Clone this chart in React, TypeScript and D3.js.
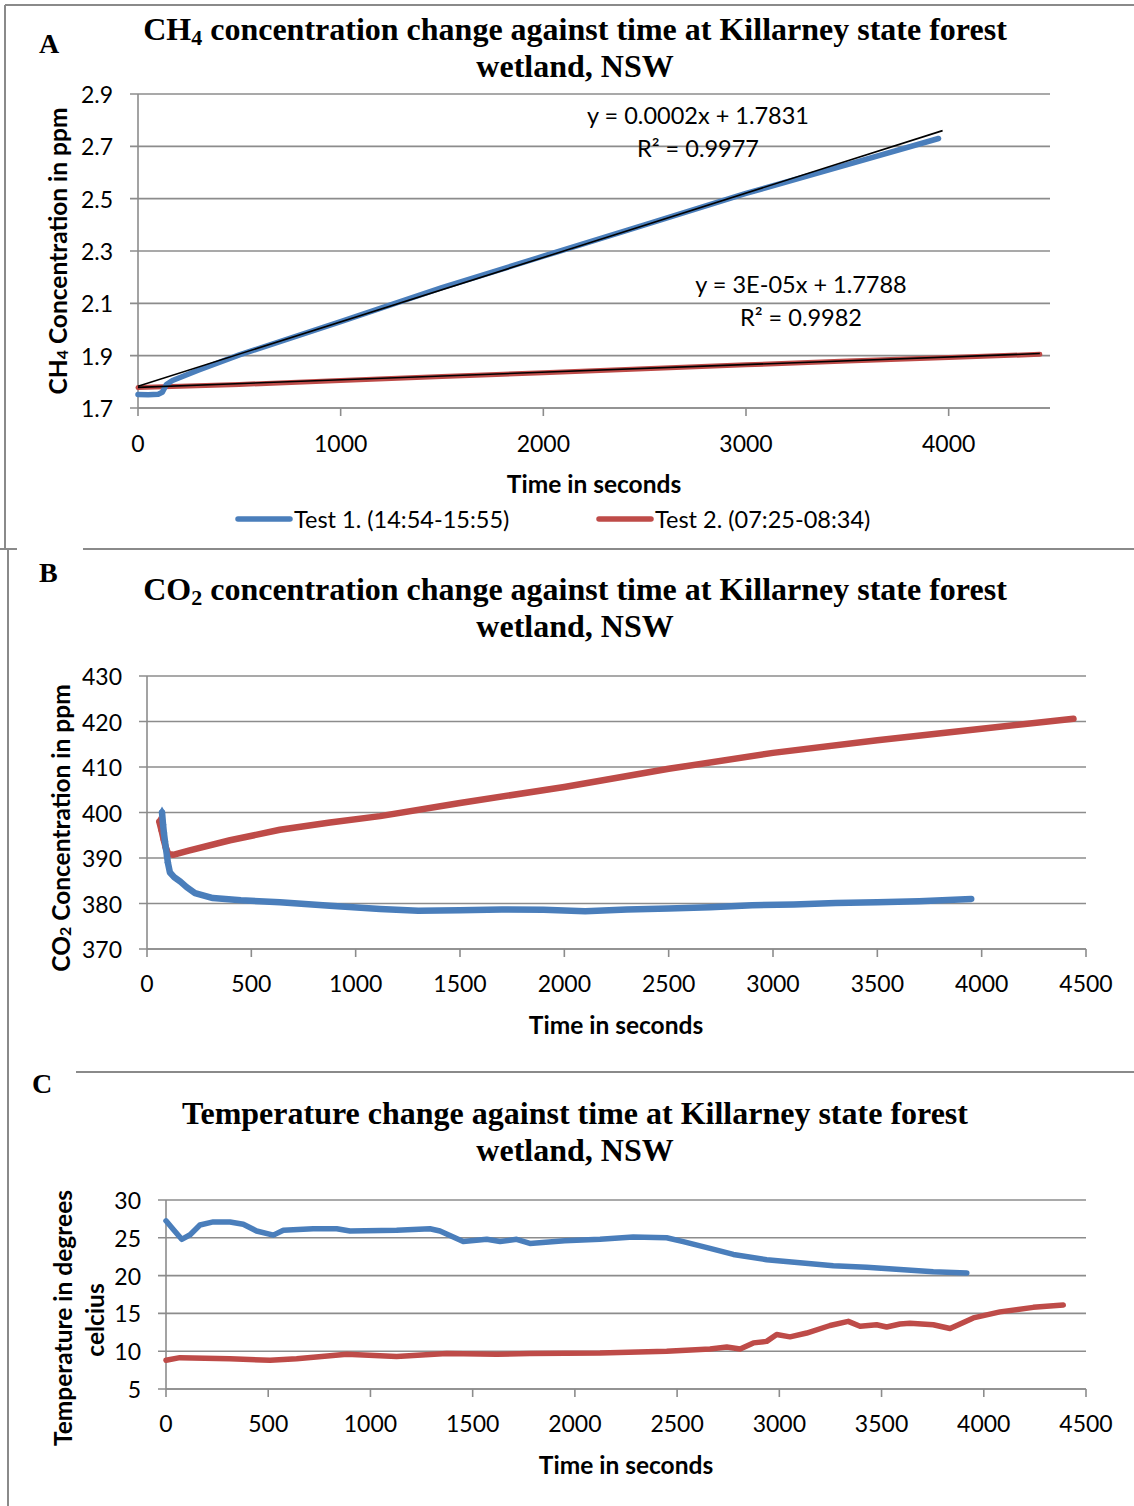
import React from "react";
import * as d3 from "d3";

type P = [number, number];

// ---------- Panel A: CH4 ----------
const ch4Test1: P[] = [
  [0, 1.752], [50, 1.751], [100, 1.753], [120, 1.76], [140, 1.79], [170, 1.805],
  [300, 1.845], [500, 1.903], [1000, 2.03], [1500, 2.16], [2000, 2.28], [2500, 2.40],
  [3000, 2.52], [3500, 2.63], [3950, 2.73],
];
const ch4Test2: P[] = [
  [0, 1.778], [500, 1.79], [1000, 1.805], [1500, 1.82], [2000, 1.835], [2500, 1.85],
  [3000, 1.865], [3500, 1.88], [4000, 1.893], [4450, 1.905],
];
const ch4Trend1: P[] = [[0, 1.7831], [3970, 2.76]];
const ch4Trend2: P[] = [[0, 1.7788], [4450, 1.908]];
const ch4XTicks = [0, 1000, 2000, 3000, 4000];
const ch4YTicks = [1.7, 1.9, 2.1, 2.3, 2.5, 2.7, 2.9];
const legendLabels = ["Test 1. (14:54-15:55)", "Test 2. (07:25-08:34)"];
const trendLabels = ["y = 0.0002x + 1.7831", "R² = 0.9977", "y = 3E-05x + 1.7788", "R² = 0.9982"];

// ---------- Panel B: CO2 ----------
const co2Test1: P[] = [
  [72, 400], [77, 397.3], [81, 395.5], [86, 393.7], [91, 392], [96, 390.4], [100, 389],
  [110, 386.8], [130, 385.8], [160, 384.8], [190, 383.6], [230, 382.3], [316, 381.2],
  [450, 380.7], [637, 380.3], [877, 379.5], [1117, 378.8], [1300, 378.4], [1500, 378.5],
  [1700, 378.7], [1900, 378.6], [2100, 378.3], [2300, 378.7], [2500, 378.9], [2700, 379.2],
  [2900, 379.6], [3100, 379.8], [3300, 380.1], [3500, 380.3], [3700, 380.5], [3950, 381.0],
];
const co2Test2: P[] = [
  [59, 398], [70, 396], [80, 394], [90, 392.3], [102, 390.9], [125, 390.7], [200, 391.6],
  [398, 393.9], [637, 396.2], [877, 397.8], [1117, 399.2], [1500, 402.1], [2000, 405.6],
  [2500, 409.6], [3000, 413.1], [3500, 415.9], [4000, 418.4], [4440, 420.6],
];
const co2XTicks = [0, 500, 1000, 1500, 2000, 2500, 3000, 3500, 4000, 4500];
const co2YTicks = [370, 380, 390, 400, 410, 420, 430];

// ---------- Panel C: Temperature ----------
const tempTest1: P[] = [
  [0, 27.25], [39, 26.0], [77, 24.8], [118, 25.4], [166, 26.7], [231, 27.1], [313, 27.1],
  [378, 26.8], [443, 25.9], [525, 25.35], [574, 26.0], [720, 26.2], [835, 26.2], [900, 25.9],
  [1128, 26.0], [1291, 26.2], [1340, 25.9], [1454, 24.5], [1569, 24.8], [1634, 24.5],
  [1715, 24.8], [1780, 24.25], [1950, 24.6], [2123, 24.8], [2285, 25.1], [2449, 25.0],
  [2530, 24.5], [2661, 23.6], [2775, 22.8], [2938, 22.1], [3101, 21.7], [3264, 21.3],
  [3427, 21.1], [3590, 20.8], [3753, 20.5], [3917, 20.35],
];
const tempTest2: P[] = [
  [0, 8.8], [68, 9.15], [313, 9.0], [509, 8.8], [639, 9.0], [884, 9.6], [1128, 9.3],
  [1373, 9.7], [1618, 9.6], [1780, 9.7], [2123, 9.75], [2449, 10.0], [2661, 10.3],
  [2743, 10.55], [2808, 10.3], [2873, 11.1], [2938, 11.3], [2987, 12.2], [3052, 11.9],
  [3134, 12.4], [3248, 13.4], [3337, 13.95], [3395, 13.3], [3476, 13.5], [3525, 13.2],
  [3590, 13.6], [3639, 13.7], [3753, 13.5], [3835, 13.0], [3884, 13.6], [3949, 14.4],
  [4079, 15.2], [4242, 15.8], [4389, 16.1],
];
const tempXTicks = [0, 500, 1000, 1500, 2000, 2500, 3000, 3500, 4000, 4500];
const tempYTicks = [5, 10, 15, 20, 25, 30];

const BLUE = "#4a7ebb";
const RED = "#be4b48";
const GRID = "#8c8c8c";
const SERIF = "'Liberation Serif', 'Times New Roman', serif";
const SANS = "Lato, 'Open Sans', sans-serif";
const TICK = 23;
const TXT = 23.5;
const BOLD = 24.5;

interface AxesProps {
  x: d3.ScaleLinear<number, number>;
  y: d3.ScaleLinear<number, number>;
  xTicks: number[];
  yTicks: number[];
  yFmt: (v: number) => string;
  xLabelY: number;
  yLabelX: number;
}

function Axes({ x, y, xTicks, yTicks, yFmt, xLabelY, yLabelX }: AxesProps) {
  const [x0, x1] = x.range();
  const [yb, yt] = y.range();
  return (
    <g>
      {yTicks.map((t) => (
        <g key={"y" + t}>
          <line x1={x0 - 8} x2={x1} y1={y(t)} y2={y(t)} stroke={GRID} strokeWidth={1.6} />
          <text x={yLabelX} y={y(t)} textAnchor="end" dominantBaseline="central"
            fontFamily={SANS} fontSize={TICK} fill="#000">{yFmt(t)}</text>
        </g>
      ))}
      <line x1={x0} x2={x0} y1={yt} y2={yb} stroke={GRID} strokeWidth={1.6} />
      <line x1={x0} x2={x1} y1={yb} y2={yb} stroke={GRID} strokeWidth={1.6} />
      {xTicks.map((t) => (
        <g key={"x" + t}>
          <line x1={x(t)} x2={x(t)} y1={yb} y2={yb + 8} stroke={GRID} strokeWidth={1.6} />
          <text x={x(t)} y={xLabelY} textAnchor="middle" dominantBaseline="central"
            fontFamily={SANS} fontSize={TICK} fill="#000">{t}</text>
        </g>
      ))}
    </g>
  );
}

function Title({ cx, y1, y2, pre, sub, post, line2 }: { cx: number; y1: number; y2: number; pre: string; sub?: string; post: string; line2: string }) {
  return (
    <g fontFamily={SERIF} fontWeight={700} fontSize={32} fill="#000" textAnchor="middle">
      <text x={cx} y={y1}>
        {pre}
        {sub ? <tspan fontSize={22} dy={5}>{sub}</tspan> : null}
        {sub ? <tspan dy={-5}>{post}</tspan> : post}
      </text>
      <text x={cx} y={y2}>{line2}</text>
    </g>
  );
}

export default function App() {
  // Panel A scales
  const xA = d3.scaleLinear().domain([0, 4500]).range([138, 1050]);
  const yA = d3.scaleLinear().domain([1.7, 2.9]).range([408, 94]);
  const lineA = d3.line<P>().x((d) => xA(d[0])).y((d) => yA(d[1]));

  // Panel B scales
  const xB = d3.scaleLinear().domain([0, 4500]).range([147, 1086]);
  const yB = d3.scaleLinear().domain([370, 430]).range([949, 676]);
  const lineB = d3.line<P>().x((d) => xB(d[0])).y((d) => yB(d[1]));
  const diamond = d3.symbol().type(d3.symbolDiamond).size(40)();

  // Panel C scales
  const xC = d3.scaleLinear().domain([0, 4500]).range([166, 1086]);
  const yC = d3.scaleLinear().domain([5, 30]).range([1389, 1200]);
  const lineC = d3.line<P>().x((d) => xC(d[0])).y((d) => yC(d[1]));

  return (
    <svg width={1134} height={1506} style={{ position: "absolute", left: 0, top: 0, background: "#fff" }}>
      <rect x={0} y={0} width={1134} height={1506} fill="#fff" />
      {/* frame lines */}
      <g stroke="#8a8a8a" strokeWidth={2} fill="none">
        <line x1={5} x2={1134} y1={5} y2={5} />
        <line x1={5} x2={5} y1={5} y2={549} />
        <line x1={0} x2={17} y1={549} y2={549} />
        <line x1={83} x2={1134} y1={549} y2={549} />
        <line x1={8} x2={8} y1={549} y2={1506} />
        <line x1={76} x2={1134} y1={1072} y2={1072} />
      </g>

      {/* ---------------- Panel A ---------------- */}
      <text x={39} y={53} fontFamily={SERIF} fontWeight={700} fontSize={28}>A</text>
      <Title cx={575} y1={40} y2={77} pre="CH" sub="4" post=" concentration change against time at Killarney state forest" line2="wetland, NSW" />
      <Axes x={xA} y={yA} xTicks={ch4XTicks} yTicks={ch4YTicks} yFmt={(v) => v.toFixed(1)}
        xLabelY={443} yLabelX={113} />
      <path d={lineA(ch4Test2) || ""} fill="none" stroke={RED} strokeWidth={5} strokeLinejoin="round" strokeLinecap="round" />
      <path d={lineA(ch4Test1) || ""} fill="none" stroke={BLUE} strokeWidth={5.5} strokeLinejoin="round" strokeLinecap="round" />
      <path d={lineA(ch4Trend1) || ""} fill="none" stroke="#000" strokeWidth={1.6} />
      <path d={lineA(ch4Trend2) || ""} fill="none" stroke="#000" strokeWidth={1.6} />
      <g fontFamily={SANS} fontSize={TXT} textAnchor="middle" fill="#000">
        <text x={698} y={115} dominantBaseline="central">{trendLabels[0]}</text>
        <text x={698} y={148} dominantBaseline="central">{trendLabels[1]}</text>
        <text x={801} y={284} dominantBaseline="central">{trendLabels[2]}</text>
        <text x={801} y={317} dominantBaseline="central">{trendLabels[3]}</text>
      </g>
      <text x={594} y={483} textAnchor="middle" dominantBaseline="central" fontFamily={SANS} fontWeight={700} fontSize={BOLD}>Time in seconds</text>
      <text transform="translate(57,251) rotate(-90)" textAnchor="middle" dominantBaseline="central" fontFamily={SANS} fontWeight={700} fontSize={BOLD}>
        CH<tspan fontSize={16} dy={4}>4</tspan><tspan dy={-4}> Concentration in ppm</tspan>
      </text>
      {/* legend */}
      <line x1={238} x2={290} y1={519} y2={519} stroke={BLUE} strokeWidth={5.5} strokeLinecap="round" />
      <text x={294} y={519} dominantBaseline="central" fontFamily={SANS} fontSize={TXT}>{legendLabels[0]}</text>
      <line x1={599} x2={651} y1={519} y2={519} stroke={RED} strokeWidth={5.5} strokeLinecap="round" />
      <text x={655} y={519} dominantBaseline="central" fontFamily={SANS} fontSize={TXT}>{legendLabels[1]}</text>

      {/* ---------------- Panel B ---------------- */}
      <text x={39} y={582} fontFamily={SERIF} fontWeight={700} fontSize={28}>B</text>
      <Title cx={575} y1={600} y2={637} pre="CO" sub="2" post=" concentration change against time at Killarney state forest" line2="wetland, NSW" />
      <Axes x={xB} y={yB} xTicks={co2XTicks} yTicks={co2YTicks} yFmt={(v) => String(v)}
        xLabelY={983} yLabelX={122} />
      <path d={lineB(co2Test2) || ""} fill="none" stroke={RED} strokeWidth={6.5} strokeLinejoin="round" strokeLinecap="round" />
      {co2Test2.filter((d) => d[0] < 100).map((d, i) => (
        <path key={"rd" + i} d={diamond || ""} transform={`translate(${xB(d[0])},${yB(d[1])})`} fill={RED} />
      ))}
      <path d={lineB(co2Test1) || ""} fill="none" stroke={BLUE} strokeWidth={6.5} strokeLinejoin="round" strokeLinecap="round" />
      {co2Test1.filter((d) => d[0] < 105).map((d, i) => (
        <path key={"bd" + i} d={diamond || ""} transform={`translate(${xB(d[0])},${yB(d[1])})`} fill={BLUE} />
      ))}
      <text x={616} y={1024} textAnchor="middle" dominantBaseline="central" fontFamily={SANS} fontWeight={700} fontSize={BOLD}>Time in seconds</text>
      <text transform="translate(60,828) rotate(-90)" textAnchor="middle" dominantBaseline="central" fontFamily={SANS} fontWeight={700} fontSize={BOLD}>
        CO<tspan fontSize={16} dy={4}>2</tspan><tspan dy={-4}> Concentration in ppm</tspan>
      </text>

      {/* ---------------- Panel C ---------------- */}
      <text x={32} y={1093} fontFamily={SERIF} fontWeight={700} fontSize={28}>C</text>
      <Title cx={575} y1={1124} y2={1161} pre="Temperature change against time at Killarney state forest" post="" line2="wetland, NSW" />
      <Axes x={xC} y={yC} xTicks={tempXTicks} yTicks={tempYTicks} yFmt={(v) => String(v)}
        xLabelY={1423} yLabelX={141} />
      <path d={lineC(tempTest2) || ""} fill="none" stroke={RED} strokeWidth={5.5} strokeLinejoin="round" strokeLinecap="round" />
      <path d={lineC(tempTest1) || ""} fill="none" stroke={BLUE} strokeWidth={5.5} strokeLinejoin="round" strokeLinecap="round" />
      <text x={626} y={1464} textAnchor="middle" dominantBaseline="central" fontFamily={SANS} fontWeight={700} fontSize={BOLD}>Time in seconds</text>
      <g fontFamily={SANS} fontWeight={700} fontSize={BOLD} textAnchor="middle">
        <text transform="translate(62,1318) rotate(-90)" dominantBaseline="central">Temperature in degrees</text>
        <text transform="translate(94,1320) rotate(-90)" dominantBaseline="central">celcius</text>
      </g>
    </svg>
  );
}
